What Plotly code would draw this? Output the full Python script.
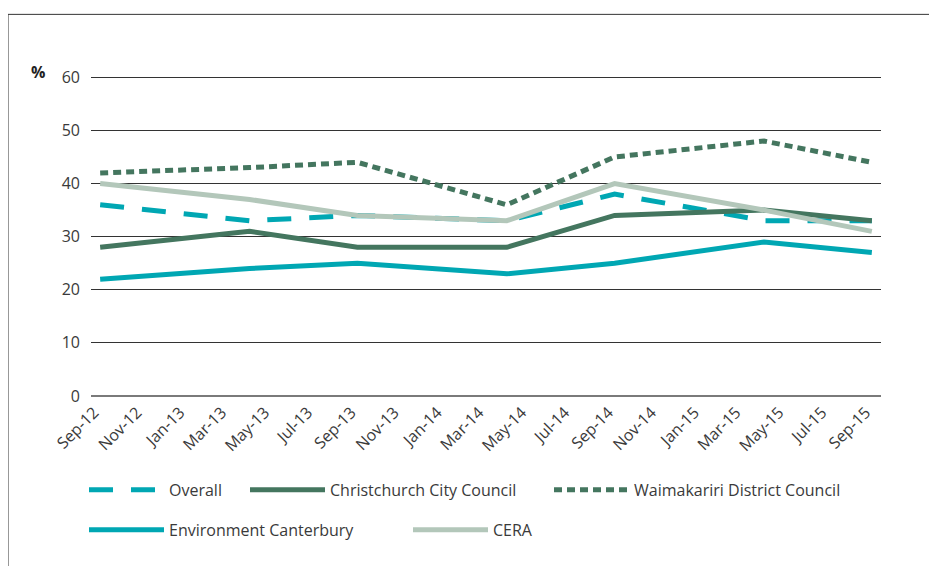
import plotly.graph_objects as go

# ---- data ----
survey_dates = ["2012-09-01", "2013-04-01", "2013-09-01", "2014-04-01",
                "2014-09-01", "2015-04-01", "2015-09-01"]
overall = [36, 33, 34, 33, 38, 33, 33]
christchurch = [28, 31, 28, 28, 34, 35, 33]
waimakariri = [42, 43, 44, 36, 45, 48, 44]
ecan = [22, 24, 25, 23, 25, 29, 27]
cera = [40, 37, 34, 33, 40, 35, 31]

tick_dates = ["2012-09-01", "2012-11-01", "2013-01-01", "2013-03-01", "2013-05-01",
              "2013-07-01", "2013-09-01", "2013-11-01", "2014-01-01", "2014-03-01",
              "2014-05-01", "2014-07-01", "2014-09-01", "2014-11-01", "2015-01-01",
              "2015-03-01", "2015-05-01", "2015-07-01", "2015-09-01"]
tick_labels = ["Sep-12", "Nov-12", "Jan-13", "Mar-13", "May-13", "Jul-13", "Sep-13",
               "Nov-13", "Jan-14", "Mar-14", "May-14", "Jul-14", "Sep-14", "Nov-14",
               "Jan-15", "Mar-15", "May-15", "Jul-15", "Sep-15"]
y_ticks = [0, 10, 20, 30, 40, 50, 60]

# ---- geometry (page pixels; the page body has an 8px margin) ----
OFF = 8
W, H = 937 - OFF, 566 - OFF
YMAX = 61
Y0_PAGE, Y60_PAGE = 396, 77
UNIT = (Y0_PAGE - Y60_PAGE) / 60.0
L, R = 91 - OFF, 881 - OFF
B = Y0_PAGE - OFF
T = Y0_PAGE - YMAX * UNIT - OFF


def px(xp):
    return (xp - OFF - L) / (R - L)


def py(yp):
    return (B - (yp - OFF)) / (B - T)


TEAL = "#00A7B3"
DKGREEN = "#44765F"
SAGE = "#B3C7BA"
TXT = "#3A3A3A"
FONT = "Open Sans"

series = [
    ("Overall", overall, TEAL, "24px,18px", "legend", 84, 490),
    ("Christchurch City Council", christchurch, DKGREEN, "solid", "legend2", 245, 490),
    ("Waimakariri District Council", waimakariri, DKGREEN, "8px,5px", "legend3", 549, 490),
    ("Environment Canterbury", ecan, TEAL, "solid", "legend4", 84, 530),
    ("CERA", cera, SAGE, "solid", "legend5", 408, 530),
]

fig = go.Figure()
layout_legends = {}
for name, vals, col, dash, lg, lx, ly in series:
    fig.add_trace(go.Scatter(
        x=survey_dates, y=vals, name=name, mode="lines",
        line=dict(color=col, width=5, dash=dash),
        legend=lg,
    ))
    layout_legends[lg] = dict(
        x=px(lx), y=py(ly), xanchor="left", yanchor="middle",
        orientation="h", itemwidth=75, bgcolor="rgba(0,0,0,0)",
        font=dict(family=FONT, size=16, color=TXT),
    )

fig.update_layout(
    width=W, height=H,
    margin=dict(l=L, r=W - R, t=T, b=H - B, autoexpand=False),
    paper_bgcolor="white", plot_bgcolor="white",
    font=dict(family=FONT, color=TXT),
    showlegend=True,
    **layout_legends,
)

fig.update_xaxes(
    type="date", range=["2012-08-19", "2015-09-14"],
    tickmode="array", tickvals=tick_dates, ticktext=tick_labels,
    tickangle=-45, tickfont=dict(family=FONT, size=16, color=TXT),
    showgrid=False, showline=False, zeroline=False, ticks="",
    ticklabelstandoff=3, ticklabelshift=-6,
)
fig.update_yaxes(
    range=[0, YMAX], tickmode="array", tickvals=y_ticks,
    tickfont=dict(family=FONT, size=16, color=TXT),
    showgrid=True, gridcolor="#333333", gridwidth=1,
    zeroline=True, zerolinecolor="#7a7a7a", zerolinewidth=2,
    showline=False, ticks="", ticklabelstandoff=10,
)

fig.add_annotation(
    text="%", xref="paper", yref="paper", x=px(47), y=py(72),
    xanchor="right", yanchor="middle", showarrow=False,
    font=dict(family=FONT, size=16, color="#222222", weight="bold"),
)

# frame lines (top and left)
fig.add_shape(type="line", xref="paper", yref="paper",
              x0=px(8), x1=px(940), y0=py(14), y1=py(14),
              line=dict(color="#333333", width=1))
fig.add_shape(type="line", xref="paper", yref="paper",
              x0=px(8), x1=px(8), y0=py(14), y1=py(570),
              line=dict(color="#333333", width=1))

fig.write_html("out.html")
